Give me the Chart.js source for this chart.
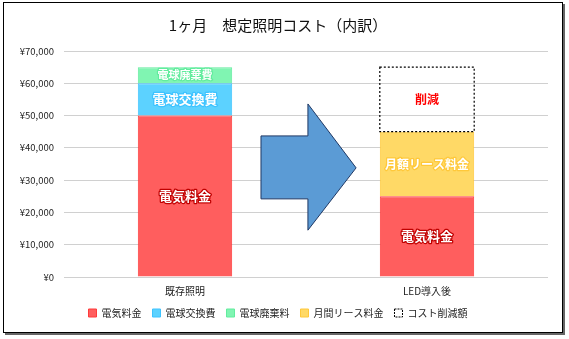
<!DOCTYPE html>
<html><head><meta charset="utf-8">
<script src="https://cdn.jsdelivr.net/npm/chart.js@4.4.0/dist/chart.umd.min.js"></script>
<style>
body{margin:0;background:#fff;font-family:"Noto Sans CJK JP",sans-serif}
#frame{position:absolute;left:3px;top:2px;width:558px;height:329px;border:1px solid #000;box-shadow:2px 2px 0 #666}
#wrap{position:absolute;left:0;top:0;width:569px;height:339px}
</style></head>
<body>
<div id="frame"></div>
<div id="wrap"><canvas id="c" width="569" height="339"></canvas></div>
<script>
const categories=["既存照明","LED導入後"];
const seriesNames=["電気料金","電球交換費","電球廃棄料","月間リース料金","コスト削減額"];
const denki=[50000,25000];
const koukan=[10000,0];
const haiki=[5000,0];
const lease=[0,20000];
const sakugen=[0,20000];
// text shown inside each segment
const segLabels=[["電気料金","電気料金"],["電球交換費",""],["電球廃棄費",""],["","月額リース料金"],["","削減"]];
const yTicks=[0,10000,20000,30000,40000,50000,60000,70000];

const fills=["#FF5E5E","#5CD2FF","#80F5B2","#FFD966","rgba(0,0,0,0)"];
const borders=["#FF3B3B","#3EC3FF","#62EC9E","#FFC83A","#000"];
const labelFont=[13,13,11,12,12];

const segText={
 id:"segText",
 afterDatasetsDraw(chart){
  const ctx=chart.ctx;
  chart.data.datasets.forEach((ds,i)=>{
   const meta=chart.getDatasetMeta(i);
   meta.data.forEach((bar,j)=>{
    if(i==4 && ds.data[j]>0){
     // dashed outline for the reduction block
     ctx.save();ctx.setLineDash([2,2]);ctx.strokeStyle="#000";ctx.lineWidth=1.2;
     ctx.strokeRect(bar.x-bar.width/2,bar.y,bar.width,bar.base-bar.y);ctx.restore();
    }
    const t=segLabels[i][j]; if(!t) return;
    const yc=(bar.y+bar.base)/2;
    ctx.save();
    ctx.font="bold "+labelFont[i]+"px 'Noto Sans CJK JP'";
    ctx.textAlign="center";ctx.textBaseline="middle";
    if(i==4){ctx.fillStyle="#FF0000";ctx.fillText(t,bar.x,yc);}
    else{
     ctx.lineWidth=2.5;ctx.strokeStyle=i==0?"#C00000":borders[i];ctx.lineJoin="round";
     ctx.strokeText(t,bar.x,yc);ctx.fillStyle="#fff";ctx.fillText(t,bar.x,yc);
    }
    ctx.restore();
   });
  });
 }
};

const arrow={
 id:"arrow",
 afterDatasetsDraw(chart){
  const x=chart.scales.x,y=chart.scales.y,ctx=chart.ctx;
  const px=f=>x.getPixelForValue(0)+f*(x.getPixelForValue(1)-x.getPixelForValue(0));
  const py=v=>y.getPixelForValue(v);
  ctx.save();
  ctx.beginPath();
  ctx.moveTo(px(0.314),py(43700));
  ctx.lineTo(px(0.508),py(43700));
  ctx.lineTo(px(0.508),py(53600));
  ctx.lineTo(px(0.707),py(33800));
  ctx.lineTo(px(0.508),py(14500));
  ctx.lineTo(px(0.508),py(24200));
  ctx.lineTo(px(0.314),py(24200));
  ctx.closePath();
  ctx.fillStyle="#5B9BD5";ctx.fill();
  ctx.strokeStyle="#1F3864";ctx.lineWidth=1;ctx.stroke();
  ctx.restore();
 }
};

const data=[denki,koukan,haiki,lease,sakugen];
new Chart(document.getElementById("c"),{
 type:"bar",
 data:{labels:categories,datasets:data.map((d,i)=>({
  label:seriesNames[i],data:d,backgroundColor:fills[i],borderColor:i==4?"rgba(0,0,0,0)":borders[i],
  borderWidth:i==4?0:1,barPercentage:0.39,categoryPercentage:1
 }))},
 options:{
  responsive:false,animation:false,
  layout:{padding:{left:8,right:21,top:0,bottom:11}},
  scales:{
   x:{stacked:true,grid:{display:false},border:{display:false},
      ticks:{color:"#222",font:{size:10,family:"Noto Sans CJK JP"},padding:0}},
   y:{stacked:true,min:0,max:70000,
      afterBuildTicks(s){s.ticks=yTicks.map(v=>({value:v}));},
      afterFit(s){s.width=56;},
      grid:{color:"#D0D0D0",drawTicks:false},border:{display:false},
      ticks:{color:"#222",padding:10,font:{size:9.5,family:"Noto Sans CJK JP"},
       callback:v=>"¥"+v.toLocaleString("en-US")}}
  },
  plugins:{
   title:{display:true,text:"1ヶ月　想定照明コスト（内訳）",color:"#111",
     font:{size:15,weight:"normal",family:"Noto Sans CJK JP"},padding:{top:16,bottom:17}},
   legend:{position:"bottom",
     labels:{boxWidth:8,boxHeight:8,padding:11,color:"#222",font:{size:10,family:"Noto Sans CJK JP"},
      generateLabels(chart){
       return chart.data.datasets.map((ds,i)=>({
        text:ds.label,fillStyle:i==4?"#fff":fills[i],strokeStyle:borders[i],lineWidth:1,
        lineDash:i==4?[2,1]:[],hidden:false,datasetIndex:i,fontColor:"#222"
       }));
      }}},
   tooltip:{enabled:false}
  }
 },
 plugins:[segText,arrow]
});
</script>
</body></html>
